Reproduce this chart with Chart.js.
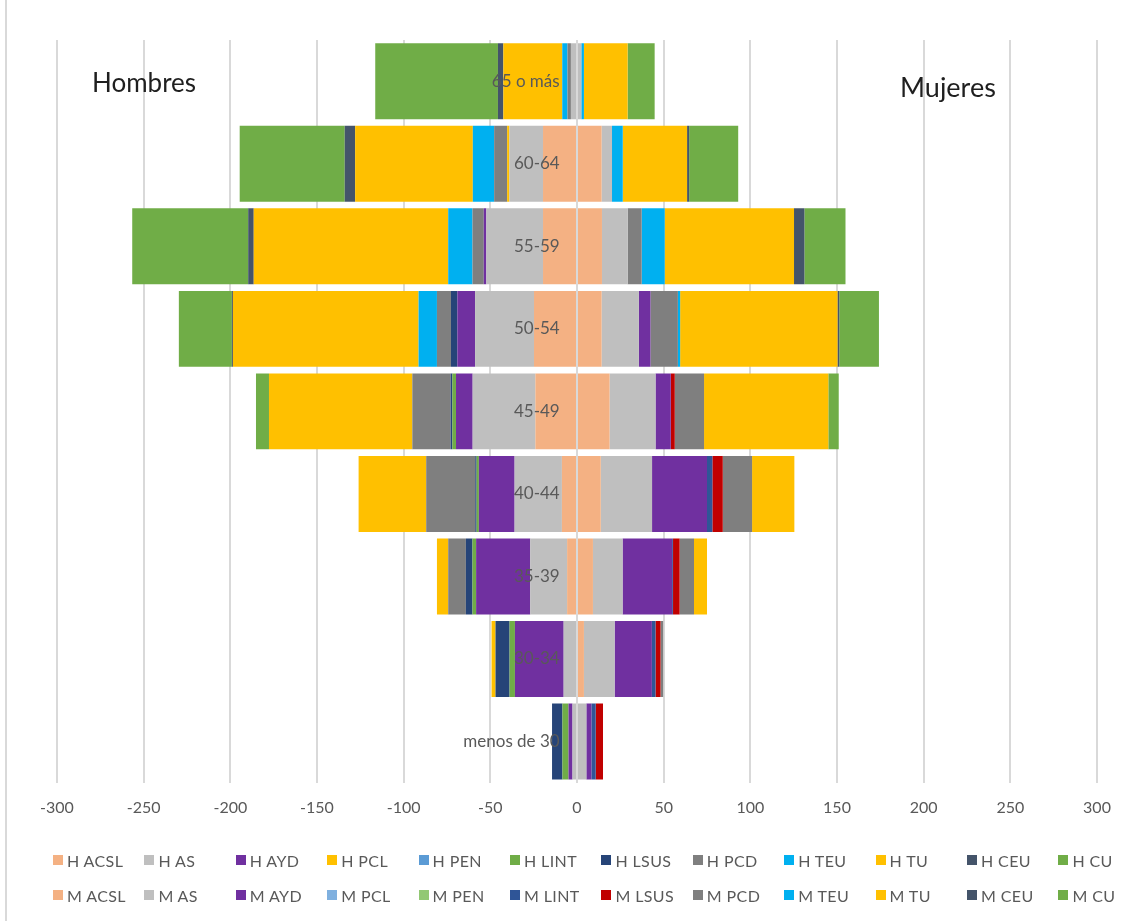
<!DOCTYPE html>
<html lang="es">
<head>
<meta charset="utf-8">
<title>Plantilla por edad y sexo</title>
<script src="https://cdn.jsdelivr.net/npm/chart.js@4/dist/chart.umd.min.js"></script>
<style>
  html, body { margin: 0; padding: 0; background: #fff; }
  #wrap { position: relative; width: 1130px; height: 921px; font-family: Lato, "Noto Sans", sans-serif; overflow: hidden; }
  #wrap canvas { position: absolute; left: 0; top: 0; }
  #frame { position: absolute; left: 5px; top: 0; width: 2px; height: 921px; background: #d9d9d9; }
  .side { position: absolute; font-size: 26px; color: #1f1f1f; line-height: 1; }
  #legend { position: absolute; left: 0; top: 848px; width: 1130px; }
  .row { position: relative; height: 35px; }
  .item { position: absolute; top: 0; height: 24px; display: flex; align-items: center; font-size: 16px; letter-spacing: 0.4px; color: #595959; white-space: nowrap; }
  .box { width: 10px; height: 10px; margin-right: 4px; }
</style>
</head>
<body>
<div id="wrap">
  <div id="frame"></div>
  <canvas id="pyramid" width="1130" height="921"></canvas>
  <div class="side" style="left: 92px; top: 69px;">Hombres</div>
  <div class="side" style="left: 900px; top: 73px; font-size: 27px;">Mujeres</div>
  <div id="legend"></div>
</div>
<script>
// grupos de edad, de arriba abajo
const ageGroups = ['65 o más', '60-64', '55-59', '50-54', '45-49', '40-44', '35-39', '30-34', 'menos de 30'];
const categories = ['ACSL', 'AS', 'AYD', 'PCL', 'PEN', 'LINT', 'LSUS', 'PCD', 'TEU', 'TU', 'CEU', 'CU'];

// hombres (valores negativos, lado izquierdo)
const hACSL = [0, -19.6, -19.6, -24.8, -24, -8.7, -5.7, 0, 0];
const hAS   = [-3.5, -19.4, -32.7, -34, -36.2, -27.3, -21.3, -7.7, -2.6];
const hAYD  = [0, 0, -1.5, -10.2, -9.6, -20.6, -31.2, -28.1, -2.3];
const hPCL  = [0, -1.3, 0, 0, 0, 0, 0, 0, 0];
const hPEN  = [0, 0, 0, 0, 0, 0, 0, 0, 0];
const hLINT = [0, 0, 0, 0, -2.1, -1.3, -2.1, -3.1, -3.5];
const hLSUS = [0, 0, 0, -3.7, -1, -0.8, -3.8, -8.1, -6];
const hPCD  = [-2, -7.5, -6.5, -8.1, -22.1, -28.3, -10.2, 0, 0];
const hTEU  = [-3, -12.3, -14, -10.6, 0, 0, 0, 0, 0];
const hTU   = [-34, -67.9, -112.2, -107.1, -82.7, -39, -6.5, -2.3, 0];
const hCEU  = [-3.1, -6, -3.2, -0.6, 0, 0, 0, 0, 0];
const hCU   = [-70.8, -60.6, -66.9, -30.6, -7.5, 0, 0, 0, 0];

// mujeres (lado derecho)
const mACSL = [0, 14.2, 14.4, 14.2, 18.8, 13.7, 9.2, 4, 0];
const mAS   = [2.5, 6, 14.8, 21.5, 26.5, 29.6, 17.1, 17.7, 5.4];
const mAYD  = [0, 0, 0, 6.7, 8.8, 31.7, 28.6, 21.5, 2.9];
const mPCL  = [0, 0, 0, 0, 0, 0, 0, 0, 0];
const mPEN  = [0, 0, 0, 0, 0, 0, 0, 0, 0];
const mLINT = [0, 0, 0, 0, 0, 3.1, 0.5, 2.1, 2.5];
const mLSUS = [0, 0, 0, 0, 2.3, 6, 3.8, 2.9, 4.2];
const mPCD  = [0, 0, 8.1, 15.8, 16.9, 16.9, 8.3, 1.5, 0];
const mTEU  = [1.5, 6.2, 13.3, 1.3, 0, 0, 0, 0, 0];
const mTU   = [25.2, 37.1, 74.6, 90.8, 71.7, 24.4, 7.5, 0, 0];
const mCEU  = [0, 1.2, 6, 1, 0, 0, 0, 0, 0];
const mCU   = [15.6, 28.3, 23.7, 22.9, 6, 0, 0, 0, 0];

const xTicks = [-300, -250, -200, -150, -100, -50, 0, 50, 100, 150, 200, 250, 300];

const hColors = ['#f4b183', '#bfbfbf', '#7030a0', '#ffc000', '#5b9bd5', '#70ad47',
                 '#264478', '#7f7f7f', '#00b0f0', '#ffc000', '#44546a', '#70ad47'];
const mColors = ['#f4b183', '#bfbfbf', '#7030a0', '#7fb0df', '#92c874', '#2f5597',
                 '#c00000', '#7f7f7f', '#00b0f0', '#ffc000', '#44546a', '#70ad47'];

const hData = [hACSL, hAS, hAYD, hPCL, hPEN, hLINT, hLSUS, hPCD, hTEU, hTU, hCEU, hCU];
const mData = [mACSL, mAS, mAYD, mPCL, mPEN, mLINT, mLSUS, mPCD, mTEU, mTU, mCEU, mCU];

const datasets = [];
categories.forEach((c, i) => {
    datasets.push({ label: 'H ' + c, data: hData[i], backgroundColor: hColors[i] });
});
categories.forEach((c, i) => {
    datasets.push({ label: 'M ' + c, data: mData[i], backgroundColor: mColors[i] });
});
datasets.forEach(ds => {
    ds.categoryPercentage = 0.92;
    ds.barPercentage = 1;
    ds.borderWidth = 0;
});

// linea del eje en 0, por encima de las barras
const zeroLine = {
    id: 'zeroLine',
    afterDatasetsDraw(chart) {
        const { ctx, chartArea, scales } = chart;
        const x0 = scales.x.getPixelForValue(0);
        ctx.save();
        ctx.strokeStyle = '#d9d9d9';
        ctx.lineWidth = 2;
        ctx.beginPath();
        ctx.moveTo(x0, chartArea.top);
        ctx.lineTo(x0, chartArea.bottom);
        ctx.stroke();
        ctx.restore();
    }
};

new Chart(document.getElementById('pyramid'), {
    type: 'bar',
    data: {
        labels: ageGroups,
        datasets: datasets
    },
    options: {
        indexAxis: 'y',
        responsive: false,
        animation: false,
        layout: { padding: { left: 57, right: 33, top: 40, bottom: 89 } },
        plugins: {
            legend: { display: false },
            tooltip: { enabled: false }
        },
        scales: {
            x: {
                stacked: true,
                min: -300,
                max: 300,
                afterBuildTicks: axis => { axis.ticks = xTicks.map(v => ({ value: v })); },
                ticks: { color: '#595959', font: { family: 'Lato', size: 16 }, padding: 15 },
                grid: { color: '#d9d9d9', lineWidth: 2, drawTicks: false },
                border: { display: false }
            },
            y: {
                stacked: true,
                position: { x: -10 },
                grid: { display: false },
                border: { display: false },
                ticks: { z: 1, color: '#595959', font: { family: 'Lato', size: 17 } }
            }
        }
    },
    plugins: [zeroLine]
});

// leyenda en dos filas de 12 columnas
const legend = document.getElementById('legend');
[0, 1].forEach(r => {
    const row = document.createElement('div');
    row.className = 'row';
    datasets.slice(r * 12, r * 12 + 12).forEach((ds, i) => {
        const item = document.createElement('div');
        item.className = 'item';
        item.style.left = (53 + i * 91.4) + 'px';
        const box = document.createElement('span');
        box.className = 'box';
        box.style.background = ds.backgroundColor;
        item.appendChild(box);
        item.appendChild(document.createTextNode(ds.label));
        row.appendChild(item);
    });
    legend.appendChild(row);
});
</script>
</body>
</html>
